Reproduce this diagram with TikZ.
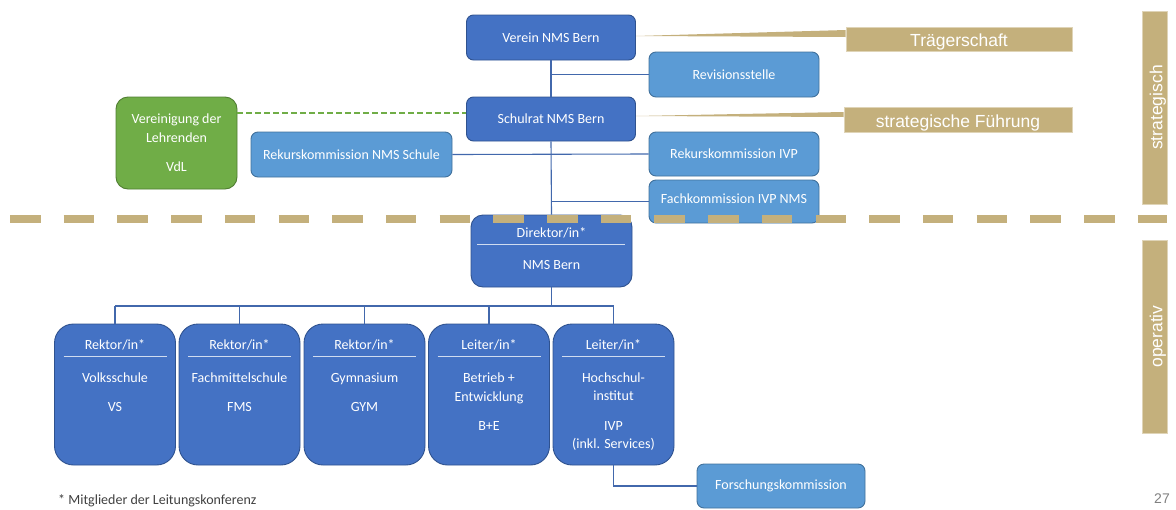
\documentclass[tikz,border=0pt]{standalone}
\usepackage{fontspec}
\setmainfont{Carlito}
\newfontfamily\arialfont{Liberation Sans}
\definecolor{nmsblue}{HTML}{4472C4}
\definecolor{nmsblueline}{HTML}{2F528F}
\definecolor{nmslight}{HTML}{5B9BD5}
\definecolor{nmslightline}{HTML}{41719C}
\definecolor{nmsgreen}{HTML}{70AD47}
\definecolor{nmsgreenline}{HTML}{507E32}
\definecolor{nmsgold}{HTML}{C4B07C}
\definecolor{nmsconn}{HTML}{4268AC}
\tikzset{
  orgbox/.style={draw=nmsblueline, fill=nmsblue, rounded corners=7pt, line width=0.9pt,
    text=white, font=\fontsize{14}{18.5}\selectfont, align=center, inner sep=0pt},
  subbox/.style={orgbox, draw=nmslightline, fill=nmslight},
  unitbox/.style={orgbox, rounded corners=19pt, minimum width=121pt, minimum height=141pt},
  vdlbox/.style={orgbox, draw=nmsgreenline, fill=nmsgreen, rounded corners=12pt},
  boxtext/.style={text=white, font=\fontsize{14}{18.5}\selectfont, align=center, inner sep=0pt},
  goldbox/.style={fill=nmsgold, draw=nmsgold!55!white, line width=0.6pt, text=white,
    font=\arialfont\fontsize{17.5}{20}\selectfont, inner sep=0pt, text height=15.5pt, text depth=0pt},
  conn/.style={draw=nmsconn, line width=1.1pt},
  divline/.style={draw=white!75!nmsblue, line width=0.8pt},
}
\begin{document}
\begin{tikzpicture}[x=1pt, y=-1pt]
  \useasboundingbox (0,0) rectangle (1176,509);
  % strategische Ebene
  \node[orgbox, minimum width=169pt, minimum height=45pt] (verein) at (551,37.5) {Verein NMS Bern};
  \node[orgbox, minimum width=169pt, minimum height=44pt] (schulrat) at (551,119) {Schulrat NMS Bern};
  \node[subbox, minimum width=170pt, minimum height=45pt] (revision) at (734,74.5) {Revisionsstelle};
  \node[subbox, minimum width=170pt, minimum height=44pt] (rekivp) at (734,154) {Rekurskommission IVP};
  \node[subbox, minimum width=170pt, minimum height=43pt, text depth=5pt] (fach) at (734,201.5) {Fachkommission IVP NMS};
  \node[subbox, minimum width=201pt, minimum height=45pt] (reknms) at (351.5,154.5) {Rekurskommission NMS Schule};
  \node[vdlbox, minimum width=121pt, minimum height=92pt] (vdl) at (176.5,143) {Vereinigung der\\Lehrenden\\[11pt]VdL};
  \node[goldbox, minimum width=226pt, minimum height=24pt] (traeger) at (959,39) {Trägerschaft};
  \node[goldbox, minimum width=228pt, minimum height=25pt] (fuehrung) at (958,119.5) {strategische Führung};
  \node[goldbox, rotate=90, minimum width=193pt, minimum height=25pt] (strat) at (1154.5,107.5) {strategisch};
  \node[goldbox, rotate=90, minimum width=193pt, minimum height=25pt] (oper) at (1154.5,336.5) {operativ};
  \fill[nmsgold] ([yshift=1.5pt]verein.east) -- ([yshift=9pt]traeger.west) -- ([yshift=2pt]traeger.west) -- cycle;
  \fill[nmsgold] ([yshift=3pt]schulrat.east) -- ([yshift=7.5pt]fuehrung.west) -- ([yshift=2.5pt]fuehrung.west) -- cycle;
  % operative Ebene
  \node[orgbox, rounded corners=12pt, minimum width=161pt, minimum height=72pt] (direktor) at (551.5,251) {};
  \node[boxtext] (direktorT) at (551.5,233) {Direktor/in*};
  \node[boxtext] (direktorB) at (551.5,265) {NMS Bern};
  \draw[divline] (477,244) -- (625,244);
  \node[unitbox] (vs) at (115,394.5) {};
  \node[unitbox] (fms) at (239.5,394.5) {};
  \node[unitbox] (gym) at (364.5,394.5) {};
  \node[unitbox] (be) at (489,394.5) {};
  \node[unitbox] (ivp) at (613.5,394.5) {};
  \node[boxtext] (vsT) at (115,345) {Rektor/in*};
  \node[boxtext] (fmsT) at (239.5,345) {Rektor/in*};
  \node[boxtext] (gymT) at (364.5,345) {Rektor/in*};
  \node[boxtext] (beT) at (489,345) {Leiter/in*};
  \node[boxtext] (ivpT) at (613.5,345) {Leiter/in*};
  \draw[divline] (63.5,356) -- (166.5,356);
  \draw[divline] (188,356) -- (291,356);
  \draw[divline] (313,356) -- (416,356);
  \draw[divline] (437.5,356) -- (540.5,356);
  \draw[divline] (562,356) -- (665,356);
  \node[boxtext] (vsB) at (115,392) {Volksschule\\[11pt]VS};
  \node[boxtext] (fmsB) at (239.5,392) {Fachmittelschule\\[11pt]FMS};
  \node[boxtext] (gymB) at (364.5,392) {Gymnasium\\[11pt]GYM};
  \node[boxtext] (beB) at (489,402) {Betrieb +\\Entwicklung\\[11pt]B+E};
  \node[boxtext] (ivpB) at (613.5,411.5) {Hochschul-\\institut\\[11pt]IVP\\(inkl. Services)};
  \node[subbox, minimum width=168pt, minimum height=44pt] (forsch) at (781,486) {Forschungskommission};
  % Verbindungen
  \draw[conn] (verein.south) -- (schulrat.north);
  \draw[conn] (schulrat.south) -- (direktor.north);
  \draw[conn] (revision.west) -- (revision.west -| verein.south);
  \draw[conn] (reknms.east) -- (rekivp.west);
  \draw[conn] (fach.west) -- (fach.west -| schulrat.south);
  \coordinate (vdlend) at ([yshift=6pt]schulrat.west);
  \draw[nmsgreen, line width=1.1pt, dash pattern=on 5.5pt off 3.5pt] (vdl.east |- vdlend) -- (vdlend);
  \coordinate (bus) at (551.5,306);
  \draw[conn] (direktor.south) -- (bus);
  \draw[conn] (vs.north |- bus) -- (ivp.north |- bus);
  \draw[conn] (vs.north) -- (vs.north |- bus);
  \draw[conn] (fms.north) -- (fms.north |- bus);
  \draw[conn] (gym.north) -- (gym.north |- bus);
  \draw[conn] (be.north) -- (be.north |- bus);
  \draw[conn] (ivp.north) -- (ivp.north |- bus);
  \draw[conn] (ivp.south) |- (forsch.west);
  % Trennlinie
  \draw[nmsgold, line width=7.5pt, dash pattern=on 30.5pt off 23.2pt] (10,219) -- (1167,219);
  \node[anchor=base west, inner sep=0pt, text=black!75, font=\fontsize{14}{16}\selectfont] (note) at (58,504.5) {* Mitglieder der Leitungskonferenz};
  \node[anchor=base, inner sep=0pt, text=black!50, font=\arialfont\fontsize{14}{16}\selectfont] (pagenum) at (1162,503) {27};
\end{tikzpicture}
\end{document}
